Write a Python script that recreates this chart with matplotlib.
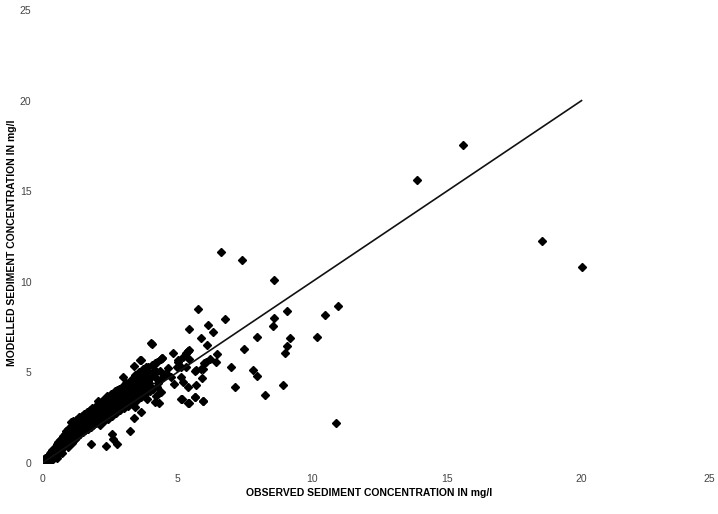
import matplotlib
matplotlib.use("Agg")
import matplotlib.pyplot as plt
from matplotlib.transforms import ScaledTranslation

plt.rcParams['font.family'] = ['Liberation Sans', 'DejaVu Sans']

# Dense band of observations (x: observed, y: modelled), mg/l
band_obs = [0.00,0.03,0.05,0.07,0.09,0.11,0.13,0.15,0.17,0.19,0.21,0.23,0.25,0.27,0.29,0.31,0.33,0.35,0.37,0.39,
            0.41,0.43,0.45,0.47,0.49,0.51,0.53,0.55,0.57,0.59,0.61,0.63,0.65,0.67,0.69,0.71,0.73,0.75,0.77,0.79,
            0.81,0.83,0.85,0.87,0.89,0.91,0.93,0.95,0.97,0.99,
            1.01,1.03,1.05,1.07,1.09,1.11,1.13,1.15,1.17,1.19,1.21,1.23,1.25,1.27,1.29,1.31,1.33,1.35,1.37,1.39,
            1.41,1.43,1.45,1.47,1.49,1.51,1.53,1.55,1.57,1.59,1.61,1.63,1.65,1.67,1.69,1.71,1.73,1.75,1.77,1.79,
            1.81,1.83,1.85,1.87,1.89,1.91,1.93,1.95,1.97,1.99,
            2.02,2.05,2.08,2.11,2.14,2.17,2.20,2.23,2.26,2.29,2.32,2.35,2.38,2.41,2.44,2.47,2.50,2.53,2.56,2.59,
            2.62,2.65,2.68,2.71,2.74,2.77,2.80,2.83,2.86,2.89,2.92,2.95,2.98,3.01,3.04,3.07,3.10,3.13,3.16,3.19,
            3.22,3.25,3.28,3.31,3.34,3.37,3.40,3.43,3.46,3.49,3.52,3.55,3.58,3.61,3.64,3.67,3.70,3.73,3.76,3.79,
            3.82,3.85,3.88,3.91,3.94,3.97,4.00,4.05,4.10,4.15,4.20,4.25,4.30,4.35,4.40,4.45]
band_mod = [0.02,0.10,0.00,0.18,0.08,0.25,0.05,0.30,0.15,0.40,0.22,0.10,0.45,0.30,0.55,0.20,0.60,0.40,0.70,0.30,
            0.75,0.50,0.85,0.40,0.95,0.60,1.05,0.45,0.80,1.15,0.65,1.00,1.25,0.70,1.10,1.40,0.85,1.20,1.50,0.95,
            1.30,1.60,1.05,1.45,1.75,1.15,1.55,1.85,1.25,1.65,
            1.95,1.35,2.25,1.70,1.10,2.05,1.50,2.30,1.85,1.30,2.15,1.65,2.40,1.95,1.45,2.25,1.80,2.55,2.05,1.60,
            2.35,1.90,2.60,2.15,1.70,2.45,2.00,2.70,2.25,1.80,2.55,2.10,2.80,2.35,1.90,2.65,2.20,2.90,2.45,2.00,
            2.75,2.30,3.00,2.55,2.10,2.85,2.40,3.10,2.65,2.20,
            2.95,2.35,3.30,2.70,2.10,3.10,2.50,3.50,2.90,2.30,3.25,2.65,3.65,3.05,2.45,3.40,2.80,3.80,3.20,2.60,
            3.55,2.95,3.95,3.35,2.75,3.70,3.10,4.10,3.50,2.90,3.85,3.25,4.25,3.65,3.05,4.00,3.40,4.35,3.80,3.15,
            4.20,3.55,4.60,3.95,3.30,4.40,3.75,4.85,4.15,3.50,4.55,3.90,5.00,4.30,3.65,4.70,4.05,5.20,4.45,3.80,
            4.85,4.20,3.55,5.05,4.40,3.95,4.70,5.40,4.10,4.90,3.70,5.60,4.40,5.10,3.90,4.70]

# Extra band points filling the gaps irregularly
fill_obs = [0.06,0.14,0.24,0.34,0.44,0.52,0.62,0.72,0.84,0.94,1.04,1.12,1.22,1.32,1.42,1.52,1.62,1.72,1.82,1.92,
            2.06,2.18,2.28,2.40,2.52,2.64,2.76,2.88,3.00,3.12,3.24,3.36,3.48,3.60,3.72,3.84,
            0.36,0.58,0.88,1.16,1.46,1.76,2.12,2.46,2.82,3.18,3.54,3.90]
fill_mod = [0.22,0.02,0.35,0.15,0.68,0.28,0.92,0.55,1.38,0.88,1.80,1.22,2.02,1.55,2.48,1.85,2.62,2.12,3.05,2.30,
            3.40,2.62,3.02,3.72,3.10,3.48,4.02,3.30,3.95,3.62,4.48,4.05,4.75,4.12,4.60,5.30,
            0.58,0.95,1.62,1.90,2.20,2.75,2.85,3.05,3.90,4.15,4.25,4.55]

# Scattered points around and beyond the band
scatter_obs = [1.10,1.46,1.79,2.35,2.78,2.57,2.62,3.23,3.38,3.66,3.45,3.23,3.17,3.08,2.98,3.40,3.61,3.64,3.93,
               4.03,4.06,4.17,4.22,4.26,4.04,3.60,4.34,4.18,4.39,4.44,4.19,4.43,4.66,4.58,4.76,4.86,4.87,4.98,5.03,
               5.13,5.21,5.41,5.02,5.15,5.21,5.33,5.33,5.41,5.42,5.38,5.43,5.70,5.89,6.01,6.20,5.15,5.41,5.67,5.96,
               5.43,5.17,5.67,5.97,5.68,5.90,5.64,5.97,6.05,6.45,6.49,6.09,5.89,6.33,6.13,5.45,5.78,6.76,
               7.01,7.15,7.47,7.80,7.97,7.95,8.26,8.56,8.58,8.94,8.99,9.07,9.17,9.08,10.20,10.47,10.98,10.90]
scatter_mod = [2.23,2.47,1.05,0.94,1.05,1.58,1.33,1.75,2.47,2.83,3.11,3.66,4.03,4.40,4.77,5.36,5.71,5.69,5.32,
               6.61,6.59,5.14,4.68,4.22,4.22,4.03,3.33,3.39,5.76,5.78,5.51,5.78,5.23,4.96,4.77,6.08,4.38,5.32,5.60,
               4.77,4.49,4.22,5.69,5.32,5.87,5.29,6.06,6.17,6.23,6.19,5.76,5.14,5.21,5.54,5.73,3.52,3.30,3.66,3.44,
               3.33,3.52,3.66,3.43,4.31,4.71,5.08,5.19,5.58,5.60,6.04,6.52,6.89,7.25,7.62,7.40,8.49,7.94,
               5.30,4.18,6.30,5.12,4.81,6.96,3.76,7.55,8.01,4.31,6.09,6.45,6.89,8.41,6.98,8.16,8.66,2.23]

# Isolated high values
outlier_obs = [6.61,7.40,8.58,13.88,15.62,18.55,20.00]
outlier_mod = [11.66,11.23,10.09,15.64,17.57,12.28,10.83]

# 1:1 reference line
line_x = [0, 20]
line_y = [0, 20]

ticks = [0, 5, 10, 15, 20, 25]

fig = plt.figure(figsize=(7.18, 5.14), dpi=100)
ax = fig.add_axes([0.0592, 0.0992, 0.9384, 0.8813])

for xs, ys in [(band_obs, band_mod), (fill_obs, fill_mod), (scatter_obs, scatter_mod),
               (outlier_obs, outlier_mod)]:
    ax.plot(xs, ys, linestyle='none', marker='D', markersize=3.8,
            markerfacecolor='black', markeredgecolor='black', zorder=2)

ax.plot(line_x, line_y, color='#111111', linewidth=1.2, zorder=3)

ax.set_xlim(0, 25)
ax.set_ylim(0, 25)
ax.set_xticks(ticks)
ax.set_yticks(ticks)
ax.set_xticklabels([str(t) for t in ticks], fontsize=7.5, color='#444444')
ax.set_yticklabels([str(t) for t in ticks], fontsize=7.5, color='#444444')
ax.tick_params(axis='both', length=0)
ax.tick_params(axis='x', pad=8)
ax.tick_params(axis='y', pad=8)
for s in ax.spines.values():
    s.set_visible(False)

# keep the last x tick label inside the figure
last = ax.get_xticklabels()[-1]
last.set_transform(last.get_transform() + ScaledTranslation(-5 / 72, 0, fig.dpi_scale_trans))

fig.text(0.514, 0.040, 'OBSERVED SEDIMENT CONCENTRATION IN mg/l', ha='center', va='center',
         fontsize=7.5, fontweight='bold', color='black')
fig.text(0.017, 0.528, 'MODELLED SEDIMENT CONCENTRATION IN mg/l', ha='center', va='center',
         rotation=90, fontsize=7.5, fontweight='bold', color='black')

fig.savefig('out.png', dpi=100)
